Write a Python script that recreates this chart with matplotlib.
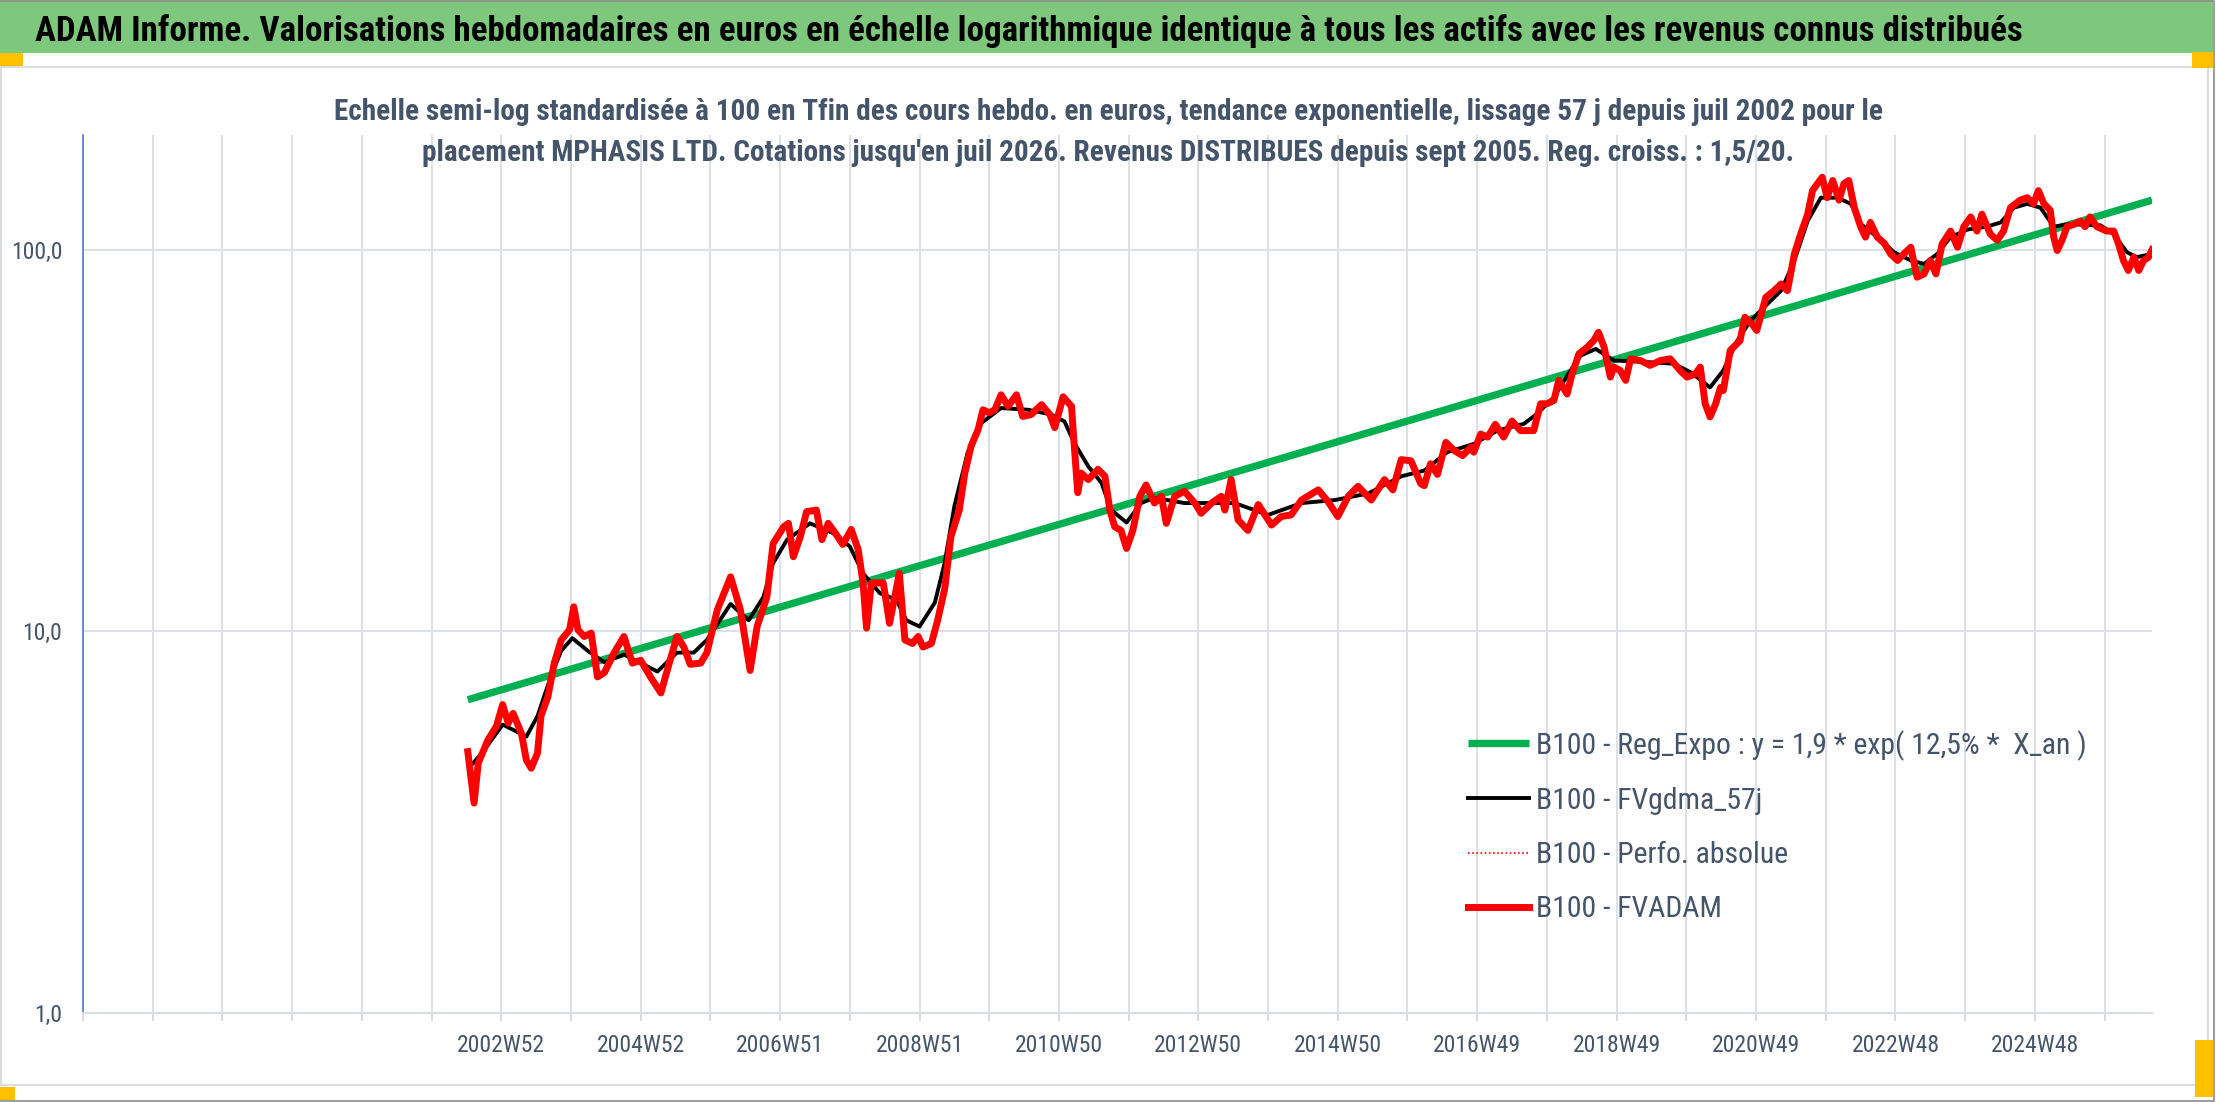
import matplotlib
matplotlib.use("Agg")
import matplotlib.pyplot as plt
from matplotlib import font_manager as fm
from matplotlib.patches import Rectangle
from matplotlib.lines import Line2D
from matplotlib.ticker import NullLocator

W, H = 2216, 1102

installed = {f.name for f in fm.fontManager.ttflist}
FONT = next((f for f in ["Liberation Sans Narrow", "Roboto Condensed", "Open Sans Condensed",
                         "Liberation Sans"] if f in installed), "DejaVu Sans")
plt.rcParams["font.family"] = [FONT, "DejaVu Sans"]

TITLE = ("ADAM Informe. Valorisations hebdomadaires en euros en échelle logarithmique "
         "identique à tous les actifs avec les revenus connus distribués")
SUB1 = ("Echelle semi-log standardisée à 100 en Tfin des cours hebdo. en euros, tendance "
        "exponentielle, lissage 57 j depuis juil 2002 pour le")
SUB2 = ("placement MPHASIS LTD. Cotations jusqu'en juil 2026. Revenus DISTRIBUES depuis "
        "sept 2005. Reg. croiss. : 1,5/20.")

# FVADAM (red), decimal years
fvadam_t = [2002.52, 2002.61, 2002.67, 2002.81, 2002.93, 2003.02, 2003.10, 2003.17, 2003.29, 2003.36,
            2003.43, 2003.52, 2003.57, 2003.67, 2003.76, 2003.86, 2003.98, 2004.04, 2004.10, 2004.19,
            2004.29, 2004.38, 2004.48, 2004.62, 2004.76, 2004.88, 2005.00, 2005.14, 2005.29, 2005.38,
            2005.52, 2005.62, 2005.71, 2005.86, 2005.95, 2006.10, 2006.29, 2006.43, 2006.57, 2006.67,
            2006.81, 2006.90, 2007.05, 2007.12, 2007.19, 2007.29, 2007.38, 2007.52, 2007.60, 2007.69,
            2007.81, 2007.90, 2008.02, 2008.12, 2008.19, 2008.24, 2008.31, 2008.48, 2008.57, 2008.71,
            2008.79, 2008.90,
            2008.98, 2009.05, 2009.17, 2009.26, 2009.36, 2009.45, 2009.57, 2009.65, 2009.74, 2009.84,
            2009.91, 2010.00, 2010.08, 2010.17, 2010.27, 2010.39, 2010.48, 2010.60, 2010.75, 2010.87,
            2010.94, 2011.06, 2011.18, 2011.22, 2011.27, 2011.32, 2011.42, 2011.56, 2011.66, 2011.73,
            2011.80, 2011.89, 2011.97, 2012.06, 2012.16, 2012.25, 2012.37, 2012.47, 2012.54, 2012.66,
            2012.80, 2012.95, 2013.04, 2013.19, 2013.33, 2013.38, 2013.47, 2013.57, 2013.71, 2013.86,
            2014.05, 2014.19, 2014.33, 2014.48, 2014.72, 2014.86, 2015.00, 2015.15, 2015.29, 2015.48,
            2015.67, 2015.79, 2015.91,
            2016.05, 2016.19, 2016.24, 2016.33, 2016.43, 2016.55, 2016.67, 2016.79, 2016.91, 2016.95,
            2017.05, 2017.15, 2017.26, 2017.38, 2017.50, 2017.62, 2017.74, 2017.81, 2017.91, 2018.00,
            2018.10, 2018.17, 2018.29, 2018.36, 2018.46, 2018.58, 2018.67, 2018.74, 2018.82, 2018.91,
            2018.96, 2019.05, 2019.13, 2019.20, 2019.34, 2019.48, 2019.63, 2019.77, 2019.91, 2020.01,
            2020.13, 2020.20, 2020.27, 2020.34, 2020.42, 2020.49, 2020.53, 2020.63, 2020.77, 2020.84,
            2020.94, 2021.01,
            2021.14, 2021.26, 2021.36, 2021.45, 2021.55, 2021.64, 2021.74, 2021.81, 2021.88, 2021.95,
            2022.02, 2022.10, 2022.19, 2022.26, 2022.33, 2022.41, 2022.50, 2022.57, 2022.64, 2022.74,
            2022.84, 2022.93, 2023.03, 2023.12, 2023.22, 2023.31, 2023.41, 2023.50, 2023.58, 2023.67,
            2023.79, 2023.89, 2023.98, 2024.08, 2024.17, 2024.24, 2024.36, 2024.46, 2024.55, 2024.65,
            2024.79, 2024.89, 2024.98, 2025.05, 2025.13, 2025.22, 2025.27, 2025.32, 2025.39, 2025.46,
            2025.58, 2025.65, 2025.72, 2025.79, 2025.89, 2026.03, 2026.13, 2026.20, 2026.27, 2026.34,
            2026.42, 2026.49, 2026.56, 2026.63, 2026.68]
fvadam_v = [4.84, 3.55, 4.52, 5.2, 5.64, 6.43, 5.75, 6.1, 5.4, 4.6,
            4.38, 4.8, 6.0, 6.76, 8.26, 9.5, 10.1, 11.6, 10.1, 9.7,
            9.9, 7.6, 7.8, 8.8, 9.7, 8.26, 8.4, 7.6, 6.9, 7.9,
            9.7, 9.1, 8.2, 8.26, 8.8, 11.4, 13.9, 11.4, 7.9, 10.3,
            12.3, 17.0, 18.8, 19.2, 15.7, 17.7, 20.6, 20.8, 17.4, 19.2,
            17.9, 16.9, 18.5, 16.4, 13.4, 10.2, 13.4, 13.4, 10.5, 14.2,
            9.5, 9.3,
            9.7, 9.1, 9.3, 10.7, 12.9, 17.7, 20.8, 26.0, 30.6, 33.8,
            38.1, 37.4, 38.1, 41.7, 38.9, 41.7, 36.6, 37.0, 39.3, 37.0,
            34.2, 41.2, 38.9, 30.6, 23.1, 26.0, 25.0, 26.6, 25.5, 20.8,
            18.8, 18.4, 16.5, 18.4, 22.6, 24.2, 21.7, 22.6, 19.2, 22.6,
            23.3, 21.7, 20.4, 21.7, 22.6, 20.8, 25.0, 19.6, 18.4, 21.5,
            19.0, 20.0, 20.2, 22.1, 23.5, 21.9, 20.0, 22.6, 24.0, 22.1,
            25.0, 23.5, 28.2,
            28.0, 24.4, 24.1, 27.5, 25.8, 31.3, 29.8, 28.9, 30.4, 29.5,
            32.9, 32.3, 34.9, 32.3, 35.6, 33.6, 33.6, 33.6, 39.5, 39.5,
            40.3, 45.5, 41.9, 47.3, 53.4, 55.6, 57.8, 60.8, 55.6, 46.4,
            49.3, 48.3, 45.5, 51.8, 51.3, 49.8, 51.3, 51.8, 48.3, 46.4,
            47.3, 49.3, 39.5, 36.5, 39.5, 43.6, 42.8, 54.5, 57.8, 66.6,
            64.0, 61.5,
            75.1, 78.2, 81.4, 78.2, 97.6, 110, 124, 143, 149, 155,
            137, 152, 135, 149, 152, 129, 115, 108, 118, 108,
            104, 97.6, 93.8, 97.6, 101.6, 84.8, 86.5, 93.8, 86.5, 103.7,
            112, 101.6, 115, 122, 112, 124, 110, 106, 112, 129,
            135, 137, 132, 143, 132, 127, 108, 99.6, 106, 115,
            117, 119, 115, 122, 115, 112, 112, 103.7, 93.8, 88.3,
            95.7, 88.3, 93.8, 95.7, 100.0]

# FVgdma_57j (black, smoothed)
gdma_t = [2002.60, 2002.76, 2003.02, 2003.19, 2003.36, 2003.52, 2003.71, 2003.86, 2004.02, 2004.24,
          2004.48, 2004.76, 2005.00, 2005.24, 2005.52, 2005.76, 2005.95, 2006.29, 2006.55, 2006.76,
          2006.90, 2007.10, 2007.43, 2007.76, 2008.00, 2008.19, 2008.43, 2008.67, 2008.81, 2009.00,
          2009.22, 2009.36, 2009.50, 2009.69, 2009.89, 2010.17, 2010.56, 2010.89, 2011.08, 2011.22,
          2011.42, 2011.61, 2011.75, 2011.97, 2012.18, 2012.37, 2012.80, 2013.52, 2014.00, 2014.48,
          2014.96, 2015.44, 2015.91, 2016.24, 2016.57, 2016.95, 2017.29, 2017.67, 2017.86, 2018.10,
          2018.34, 2018.48, 2018.70, 2018.96, 2019.44, 2019.82, 2020.06, 2020.34, 2020.53, 2020.73,
          2020.92, 2021.07, 2021.36, 2021.55, 2021.74, 2021.93, 2022.17, 2022.36, 2022.50, 2022.74,
          2022.98, 2023.22, 2023.41, 2023.60, 2023.79, 2024.03, 2024.31, 2024.51, 2024.70, 2024.89,
          2025.08, 2025.27, 2025.51, 2025.75, 2025.94, 2026.13, 2026.32, 2026.46, 2026.68]
gdma_v = [4.52, 4.9, 5.7, 5.5, 5.3, 6.0, 7.6, 8.9, 9.6, 8.9,
          8.3, 8.7, 8.26, 7.85, 8.8, 8.8, 9.5, 11.8, 10.7, 12.3,
          15.1, 17.4, 19.2, 18.1, 16.7, 14.2, 12.6, 12.1, 10.7, 10.3,
          11.9, 15.1, 21.3, 29.4, 35.2, 38.5, 38.1, 37.0, 35.5, 31.2,
          27.1, 24.5, 20.8, 19.3, 21.7, 22.4, 21.7, 21.7, 20.2, 21.7,
          22.1, 23.0, 25.5, 26.4, 29.5, 31.0, 33.6, 35.0, 37.2, 41.1,
          48.3, 52.8, 55.0, 51.3, 50.8, 50.3, 47.8, 43.6, 48.3, 57.8,
          65.2, 69.4, 78.2, 93.8, 119, 137, 137, 132, 117, 108,
          98.6, 93.8, 91.9, 97.6, 108, 113, 115, 118, 129, 132,
          129, 115, 117, 116, 116, 110, 98.6, 95.7, 97.6]

# Reg_Expo (green) end points
reg_t = [2002.52, 2026.68]
reg_v = [6.62, 135.0]

week_labels = ["2002W52", "2004W52", "2006W51", "2008W51", "2010W50", "2012W50",
               "2014W50", "2016W49", "2018W49", "2020W49", "2022W48", "2024W48"]
week_pos = list(range(2003, 2027, 2))
legend_labels = ["B100 - Reg_Expo : y = 1,9 * exp( 12,5% *  X_an )", "B100 - FVgdma_57j",
                 "B100 - Perfo. absolue", "B100 - FVADAM"]

TXT = "#44546A"


def fx(px):
    return px / W


def fy(py):
    return 1 - py / H


fig = plt.figure(figsize=(W / 100, H / 100), dpi=100)
fig.patch.set_facecolor("white")

# header band and frame
fig.add_artist(Rectangle((0, fy(53)), fx(2213), 53 / H, transform=fig.transFigure,
                         facecolor="#7DC87D", edgecolor="none", zorder=0))
fig.add_artist(Rectangle((fx(1), fy(1085)), fx(2207), (1085 - 67) / H, transform=fig.transFigure,
                         facecolor="none", edgecolor="#D9DCE1", lw=1.5, zorder=0))
for x0, y0, x1, y1 in [(0, 53, 23, 66), (2192, 52, 2213, 68), (0, 1087, 15, 1100), (2195, 1040, 2213, 1097)]:
    fig.add_artist(Rectangle((fx(x0), fy(y1)), fx(x1 - x0), (y1 - y0) / H, transform=fig.transFigure,
                             facecolor="#FFC000", edgecolor="none", zorder=1))
fig.add_artist(Line2D([0, fx(2214), fx(2214), 0], [fy(0.5), fy(0.5), fy(1101), fy(1101)],
                      transform=fig.transFigure, color="#8C8C8C", lw=1.2))

fig.text(fx(35), fy(41), TITLE, fontsize=25.2, fontweight="bold", color="black",
         ha="left", va="baseline")
fig.text(fx(1108), fy(120), SUB1, fontsize=21.1, fontweight="bold", color=TXT,
         ha="center", va="baseline")
fig.text(fx(1108), fy(161), SUB2, fontsize=21.1, fontweight="bold", color=TXT,
         ha="center", va="baseline")

ax = fig.add_axes([fx(83), fy(1013), (2152 - 83) / W, (1013 - 135) / H])
ax.set_facecolor("none")
ax.set_yscale("log")
ax.set_ylim(1, 200)
ax.set_xlim(1997.0, 2026.68)

ax.set_yticks([1, 10, 100])
ax.set_yticklabels(["1,0", "10,0", "100,0"])
ax.yaxis.set_minor_locator(NullLocator())
ax.set_xticks(list(range(1997, 2027)))
ax.set_xticklabels([week_labels[week_pos.index(t)] if t in week_pos else "" for t in range(1997, 2027)])

ax.grid(True, color="#DDE1E7", lw=1.4)
ax.set_axisbelow(True)
for s in ["top", "right"]:
    ax.spines[s].set_visible(False)
ax.spines["left"].set_color("#4472C4")
ax.spines["left"].set_linewidth(1.1)
ax.spines["bottom"].set_color("#D9DCE1")
ax.spines["bottom"].set_linewidth(1.6)
ax.tick_params(axis="y", length=0, pad=15, labelsize=17, labelcolor=TXT)
ax.tick_params(axis="x", length=6, width=1.4, color="#D9DCE1", pad=9, labelsize=17, labelcolor=TXT)

l_reg, = ax.plot(reg_t, reg_v, color="#00B050", lw=5.3, solid_capstyle="butt", zorder=2)
l_gdma, = ax.plot(gdma_t, gdma_v, color="black", lw=2.8, zorder=3)
l_perf, = ax.plot(fvadam_t, fvadam_v, color="#FF0000", lw=1.2, ls=(0, (1, 1.5)), zorder=3.5)
l_fva, = ax.plot(fvadam_t, fvadam_v, color="#FF0000", lw=5.0, solid_joinstyle="round", zorder=4)

ax.legend([l_reg, l_gdma, l_perf, l_fva], legend_labels, loc="upper left",
          bbox_to_anchor=(fx(1468), fy(730)), bbox_transform=fig.transFigure,
          frameon=False, fontsize=21.4, handlelength=2.05, handletextpad=0.25,
          labelspacing=0.88, borderpad=0, borderaxespad=0, labelcolor=TXT)

fig.savefig("out.png", dpi=100)
